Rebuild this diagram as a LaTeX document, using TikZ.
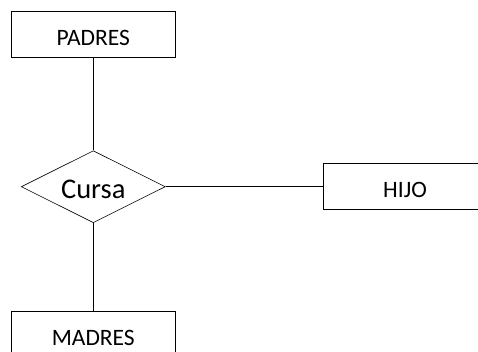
\documentclass[tikz,border=0pt]{standalone}
\usepackage{fontspec}
\setmainfont{Carlito}
\usetikzlibrary{shapes.geometric}
\begin{document}
\begin{tikzpicture}[x=1pt,y=-1pt,
  entity/.style={draw,line width=0.9pt,rectangle,inner sep=0pt,
    minimum width=164pt,minimum height=46pt,font=\fontsize{23.5}{26}\selectfont,
    text height=21pt,text depth=0pt},
  relation/.style={draw,line width=0.6pt,diamond,inner sep=0pt,aspect=2,
    minimum width=144pt,minimum height=72pt,font=\fontsize{28.5}{32}\selectfont,
    text height=23pt,text depth=0pt},
  link/.style={line width=1.1pt}]
\useasboundingbox (0,0) rectangle (478,351);
\clip (0,0) rectangle (478,351);
\node[entity] (padres) at (93.3,34.5) {PADRES};
\node[relation] (cursa) at (93.3,186.7) {Cursa};
\node[entity] (hijo) at (405,186.7) {HIJO};
\node[entity] (madres) at (93.3,334.7) {MADRES};
\draw[link] (padres.south) -- (cursa.north);
\draw[link] (cursa.south) -- (madres.north);
\draw[link] (cursa.east) -- (hijo.west);
\end{tikzpicture}
\end{document}
